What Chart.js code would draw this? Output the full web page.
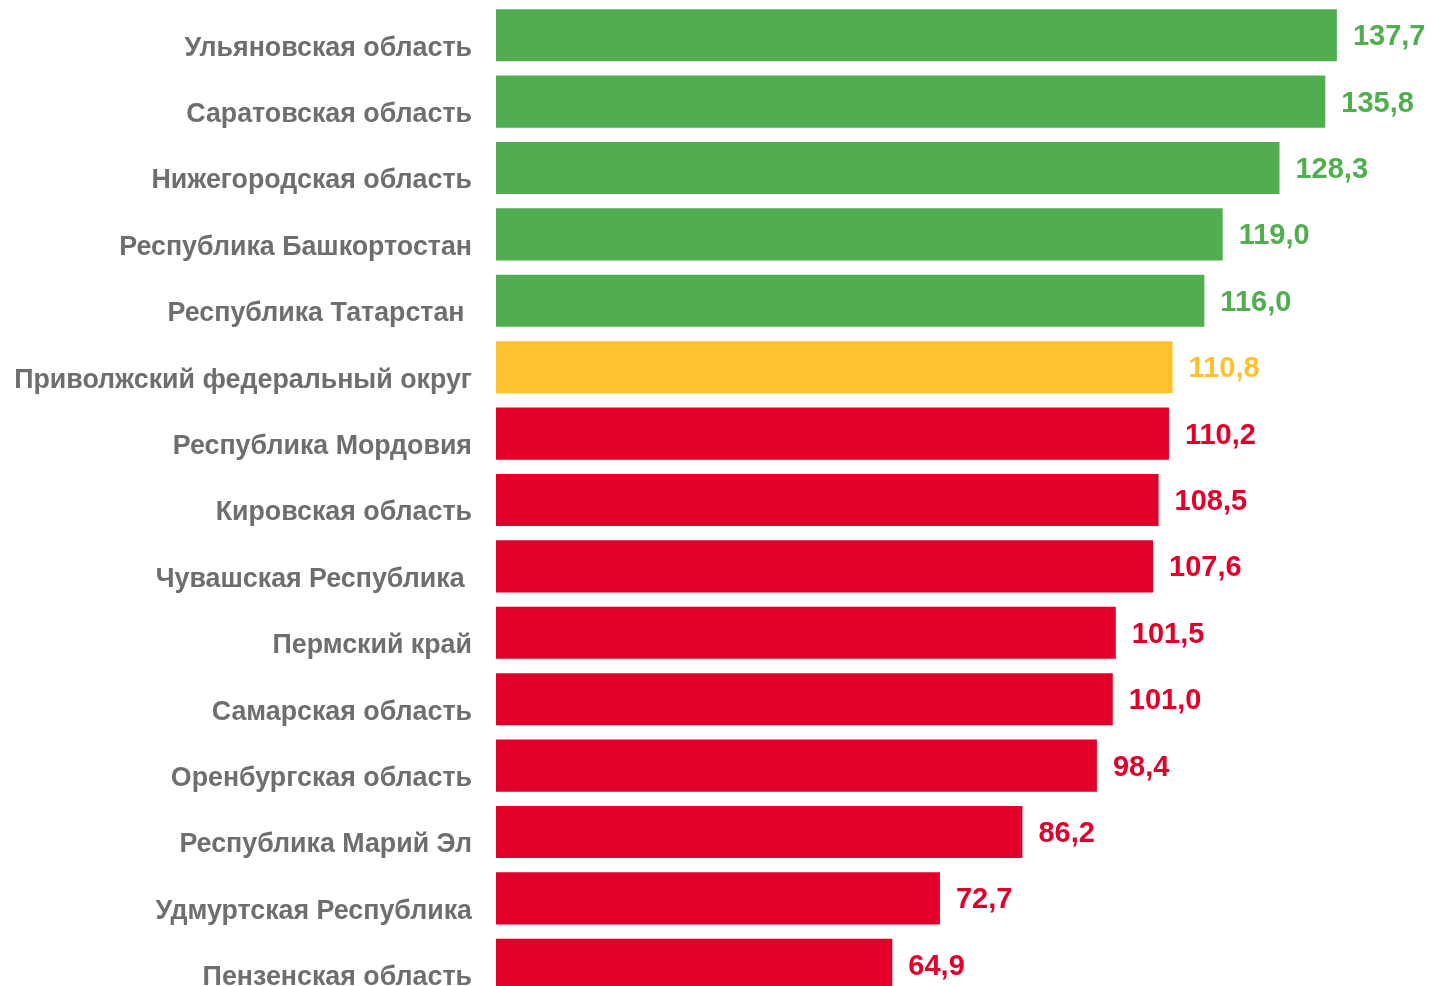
<!DOCTYPE html>
<html>
<head>
<meta charset="utf-8">
<script src="https://cdn.jsdelivr.net/npm/chart.js@4"></script>
<style>
html,body{margin:0;padding:0;background:#fff;overflow:hidden;}
#wrap{position:relative;width:1432px;height:999px;}
</style>
</head>
<body>
<div id="wrap"><canvas id="c"></canvas></div>
<script>
const categories = [
  "Ульяновская область",
  "Саратовская область",
  "Нижегородская область",
  "Республика Башкортостан",
  "Республика Татарстан ",
  "Приволжский федеральный округ",
  "Республика Мордовия",
  "Кировская область",
  "Чувашская Республика ",
  "Пермский край",
  "Самарская область",
  "Оренбургская область",
  "Республика Марий Эл",
  "Удмуртская Республика",
  "Пензенская область"
];
const values = [137.7, 135.8, 128.3, 119.0, 116.0, 110.8, 110.2, 108.5, 107.6, 101.5, 101.0, 98.4, 86.2, 72.7, 64.9];
const districtName = "Приволжский федеральный округ";

const GREEN = "#50AE51", YELLOW = "#FFC22E", RED = "#E2002B", GRAY = "#6E6E6E";
const districtValue = values[categories.indexOf(districtName)];
const barColors = categories.map((c, i) =>
  c === districtName ? YELLOW : (values[i] > districtValue ? GREEN : RED));

const FONT = '"Liberation Sans", Arial, sans-serif';

const labelsPlugin = {
  id: 'customLabels',
  afterDatasetsDraw(chart) {
    const ctx = chart.ctx;
    const meta = chart.getDatasetMeta(0);
    const yScale = chart.scales.y;
    ctx.save();
    ctx.textBaseline = 'middle';
    meta.data.forEach((bar, i) => {
      const y = yScale.getPixelForValue(i);
      // category label
      ctx.font = 'bold 26.8px ' + FONT;
      ctx.fillStyle = GRAY;
      ctx.textAlign = 'right';
      ctx.fillText(categories[i], chart.chartArea.left - 24, y + 13);
      // value label
      ctx.font = 'bold 29px ' + FONT;
      ctx.fillStyle = barColors[i];
      ctx.textAlign = 'left';
      ctx.fillText(values[i].toFixed(1).replace('.', ','), bar.x + 16, y + 2);
    });
    ctx.restore();
  }
};

new Chart(document.getElementById('c'), {
  type: 'bar',
  data: {
    labels: categories,
    datasets: [{
      data: values,
      backgroundColor: barColors,
      borderWidth: 0,
      categoryPercentage: 1,
      barPercentage: 0.784
    }]
  },
  options: {
    indexAxis: 'y',
    responsive: true,
    maintainAspectRatio: false,
    animation: false,
    layout: { padding: { left: 496, right: 20, top: 2, bottom: 1 } },
    plugins: { legend: { display: false }, tooltip: { enabled: false } },
    scales: {
      x: { display: false, min: 0, max: 150 },
      y: { display: false }
    }
  },
  plugins: [labelsPlugin]
});
</script>
</body>
</html>
